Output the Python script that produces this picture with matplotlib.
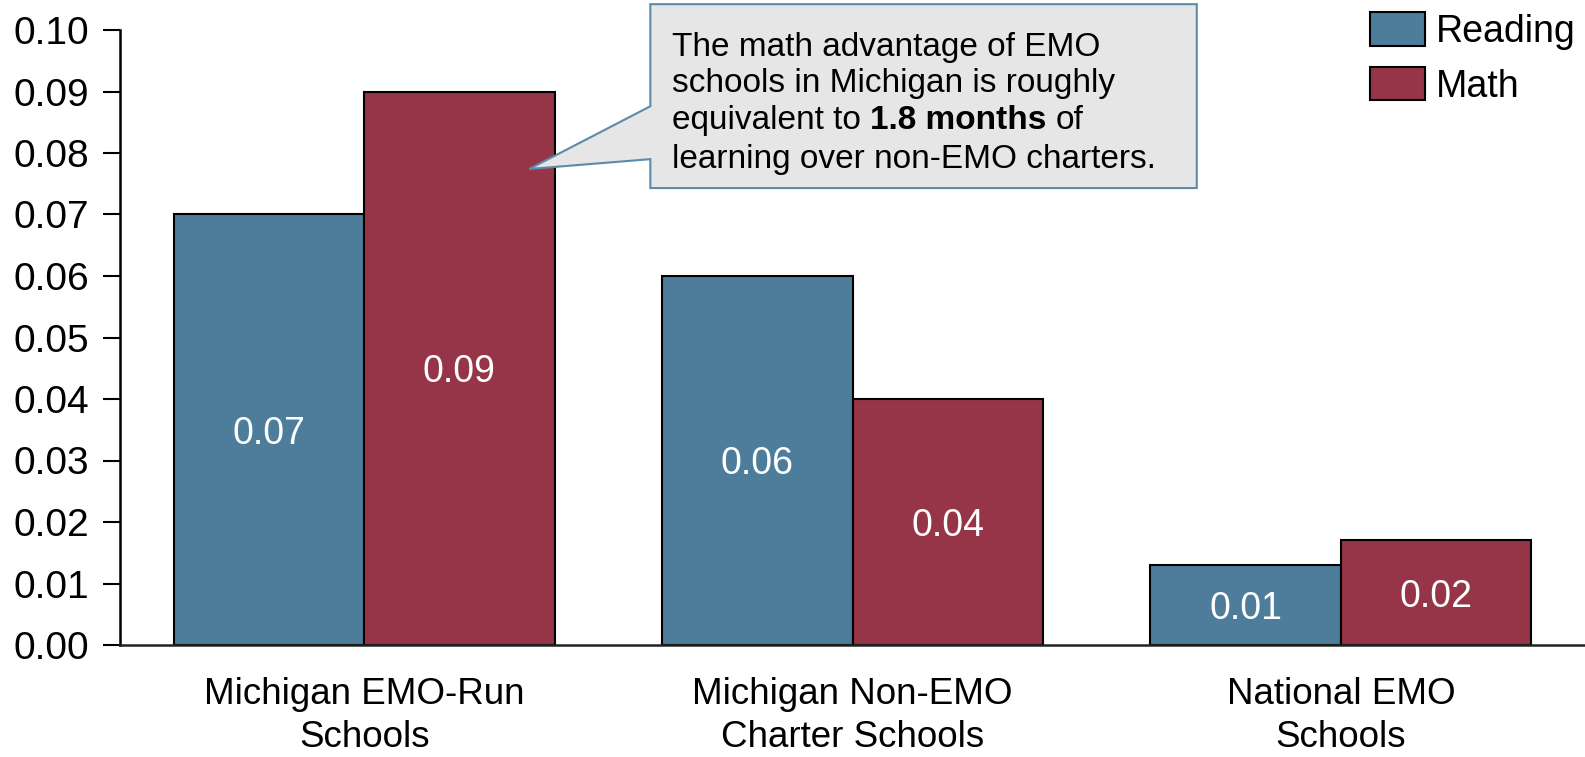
import matplotlib
matplotlib.use("Agg")
import matplotlib.pyplot as plt
from matplotlib.patches import Polygon, Patch
import numpy as np

categories = ["Michigan EMO-Run\nSchools", "Michigan Non-EMO\nCharter Schools", "National EMO\nSchools"]
reading = [0.070, 0.060, 0.013]
math_vals = [0.090, 0.040, 0.017]
reading_labels = ["0.07", "0.06", "0.01"]
math_labels = ["0.09", "0.04", "0.02"]
yticks = [0.00, 0.01, 0.02, 0.03, 0.04, 0.05, 0.06, 0.07, 0.08, 0.09, 0.10]

BLUE = "#4D7D9A"
RED = "#963547"

plt.rcParams['font.family'] = ['Liberation Sans', 'DejaVu Sans']

fig = plt.figure(figsize=(15.85, 7.57), dpi=100)
ax = fig.add_axes([120/1585, 1-645/757, 1-120/1585, (645-30)/757])

x = np.arange(len(categories))
w = 0.39
ax.bar(x - w/2, reading, w, color=BLUE, edgecolor="black", linewidth=1.5, label="Reading", zorder=2)
ax.bar(x + w/2, math_vals, w, color=RED, edgecolor="black", linewidth=1.5, label="Math", zorder=2)

for xi, v, lab in zip(x - w/2, reading, reading_labels):
    ax.text(xi, v/2, lab, ha="center", va="center_baseline", color="white", fontsize=27, zorder=3)
for xi, v, lab in zip(x + w/2, math_vals, math_labels):
    ax.text(xi, v/2, lab, ha="center", va="center_baseline", color="white", fontsize=27, zorder=3)

ax.set_xlim(-0.5, 2.5)
ax.set_ylim(0, 0.10)
ax.set_yticks(yticks)
ax.set_yticklabels([f"{t:.2f}" for t in yticks], fontsize=28)
ax.set_xticks(x)
ax.set_xticklabels(categories, fontsize=26.5, linespacing=1.3)
ax.tick_params(axis="x", length=0, pad=23)
ax.tick_params(axis="y", length=12, width=1.5, pad=10)
for s in ["top", "right"]:
    ax.spines[s].set_visible(False)
ax.spines["left"].set_linewidth(1.8)
ax.spines["bottom"].set_linewidth(1.8)
ax.spines["bottom"].set_color("#222222")

# legend
handles = [Patch(facecolor=BLUE, edgecolor="black", linewidth=1.5, label="Reading"),
           Patch(facecolor=RED, edgecolor="black", linewidth=1.5, label="Math")]
fig.legend(handles=handles, loc="upper right", bbox_to_anchor=(1.0, 0.996), frameon=False,
           fontsize=27, handlelength=1.45, handleheight=1.0, handletextpad=0.3,
           labelspacing=0.45, borderaxespad=0.15, borderpad=0.1)

# callout
bx0, bx1, by0, by1 = 0.586, 1.705, 0.0743, 0.1042
wy_top, wy_bot = 0.0876, 0.0790
tip = (0.338, 0.0774)
poly = Polygon([(bx0, by1), (bx1, by1), (bx1, by0), (bx0, by0), (bx0, wy_bot), tip, (bx0, wy_top)],
               closed=True, facecolor="#E6E6E6", edgecolor="#5B8BA8", linewidth=1.5,
               clip_on=False, zorder=4)
ax.add_patch(poly)

tx = 0.631
line_y = [0.0972, 0.0913, 0.0853, 0.0789]
fs = 24
ax.text(tx, line_y[0], "The math advantage of EMO", fontsize=fs, va="center", ha="left", zorder=5, clip_on=False)
ax.text(tx, line_y[1], "schools in Michigan is roughly", fontsize=fs, va="center", ha="left", zorder=5, clip_on=False)
ax.text(tx, line_y[3], "learning over non-EMO charters.", fontsize=fs, va="center", ha="left", zorder=5, clip_on=False)

fig.canvas.draw()
r = fig.canvas.get_renderer()
inv = ax.transData.inverted()

def width_pix(s, weight="normal"):
    t = ax.text(0, 0, s, fontsize=fs, fontweight=weight)
    bb = t.get_window_extent(renderer=r)
    t.remove()
    return bb.width

sp = width_pix("a b") - width_pix("ab")
pieces = [("equivalent to", "normal"), ("1.8 months", "bold"), ("of", "normal")]
cur = ax.transData.transform((tx, line_y[2]))[0]
for s, wgt in pieces:
    xd = inv.transform((cur, 0))[0]
    ax.text(xd, line_y[2], s, fontsize=fs, fontweight=wgt, va="center", ha="left", zorder=5, clip_on=False)
    cur += width_pix(s, wgt) + sp

fig.savefig("out.png", dpi=100)
